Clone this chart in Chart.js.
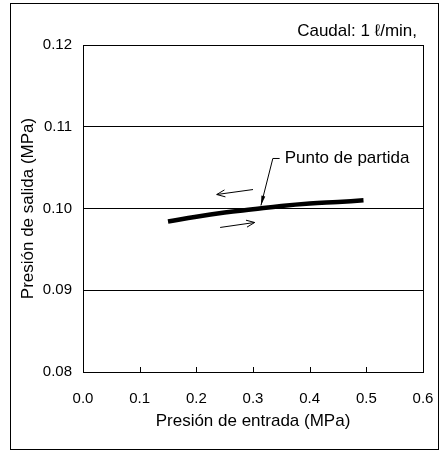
<!DOCTYPE html>
<html>
<head>
<meta charset="utf-8">
<script src="https://cdn.jsdelivr.net/npm/chart.js@4.4.1/dist/chart.umd.min.js"></script>
<style>
  html, body { margin: 0; padding: 0; background: #fff; }
  #wrap { width: 439px; height: 451px; }
</style>
</head>
<body>
<div id="wrap"><canvas id="chartCanvas" width="439" height="451"></canvas></div>
<script>
// Datos de la curva
const presionEntrada = [0.15, 0.2, 0.25, 0.3, 0.35, 0.4, 0.45, 0.495];
const presionSalida = [0.0984, 0.0990, 0.0995, 0.0999, 0.1003, 0.1006, 0.1008, 0.1010];

// Etiquetas de los ejes
const xTicks = ['0.0', '0.1', '0.2', '0.3', '0.4', '0.5', '0.6'];
const yTicks = ['0.08', '0.09', '0.10', '0.11', '0.12'];

// Anotaciones (en unidades de datos)
const flechaIzq = [[0.300, 0.10232], [0.236, 0.10171]];
const flechaDer = [[0.242, 0.09768], [0.303, 0.09829]];
const lineaGuia = [[0.347, 0.10612], [0.335, 0.10612], [0.314, 0.10037]];
const textoGuia = 'Punto de partida';
const textoCaudal = 'Caudal: 1 \u2113/min,';

const FONT = 'Liberation Sans, Arial, sans-serif';

function flecha(ctx, x1, y1, x2, y2, head) {
    ctx.beginPath();
    ctx.moveTo(x1, y1);
    ctx.lineTo(x2, y2);
    ctx.stroke();
    const ang = Math.atan2(y2 - y1, x2 - x1);
    ctx.beginPath();
    ctx.moveTo(x2 - head * Math.cos(ang - 0.4), y2 - head * Math.sin(ang - 0.4));
    ctx.lineTo(x2, y2);
    ctx.lineTo(x2 - head * Math.cos(ang + 0.4), y2 - head * Math.sin(ang + 0.4));
    ctx.stroke();
}

// Marco, ticks interiores y anotaciones
const extras = {
    id: 'extras',
    afterDraw(chart) {
        const ctx = chart.ctx;
        const xs = chart.scales.x, ys = chart.scales.y;
        const a = chart.chartArea;
        ctx.save();
        ctx.strokeStyle = '#000';
        ctx.lineWidth = 1;
        // marco exterior
        ctx.strokeRect(10.5, 3.5, chart.width - 11, chart.height - 5);
        // marco del área
        ctx.strokeRect(Math.round(a.left) + 0.5, Math.round(a.top) + 0.5,
            Math.round(a.right - a.left), Math.round(a.bottom - a.top));
        // ticks del eje x hacia dentro
        xs.ticks.forEach(t => {
            const px = Math.round(xs.getPixelForValue(t.value)) + 0.5;
            ctx.beginPath();
            ctx.moveTo(px, a.bottom);
            ctx.lineTo(px, a.bottom - 5);
            ctx.stroke();
        });
        // flechas
        const p = pt => [xs.getPixelForValue(pt[0]), ys.getPixelForValue(pt[1])];
        let [x1, y1] = p(flechaIzq[0]), [x2, y2] = p(flechaIzq[1]);
        flecha(ctx, x1, y1, x2, y2, 9);
        [x1, y1] = p(flechaDer[0]); [x2, y2] = p(flechaDer[1]);
        flecha(ctx, x1, y1, x2, y2, 9);
        // línea guía con punta rellena
        const g = lineaGuia.map(p);
        ctx.beginPath();
        ctx.moveTo(g[0][0], g[0][1]);
        ctx.lineTo(g[1][0], g[1][1]);
        ctx.lineTo(g[2][0], g[2][1]);
        ctx.stroke();
        const ang = Math.atan2(g[2][1] - g[1][1], g[2][0] - g[1][0]);
        ctx.fillStyle = '#000';
        ctx.beginPath();
        ctx.moveTo(g[2][0], g[2][1]);
        ctx.lineTo(g[2][0] - 10 * Math.cos(ang - 0.2), g[2][1] - 10 * Math.sin(ang - 0.2));
        ctx.lineTo(g[2][0] - 10 * Math.cos(ang + 0.2), g[2][1] - 10 * Math.sin(ang + 0.2));
        ctx.closePath();
        ctx.fill();
        // textos
        ctx.font = '17px ' + FONT;
        ctx.textBaseline = 'middle';
        ctx.textAlign = 'left';
        ctx.fillText(textoGuia, g[0][0] + 5, g[0][1]);
        ctx.textAlign = 'right';
        ctx.fillText(textoCaudal, 417, 31);
        ctx.restore();
    }
};

const ctx = document.getElementById('chartCanvas').getContext('2d');
new Chart(ctx, {
    type: 'line',
    data: {
        datasets: [{
            data: presionEntrada.map((x, i) => ({ x: x, y: presionSalida[i] })),
            borderColor: '#000',
            borderWidth: 4.5,
            pointRadius: 0,
            tension: 0.4,
            fill: false
        }]
    },
    options: {
        responsive: false,
        animation: false,
        layout: { padding: { left: 0, top: 45, right: 16, bottom: 0 } },
        plugins: { legend: { display: false }, tooltip: { enabled: false } },
        scales: {
            x: {
                type: 'linear',
                min: 0, max: 0.6,
                afterFit(s) { s.height = 79; s.paddingLeft = 0; s.paddingRight = 0; },
                afterBuildTicks(s) { s.ticks = xTicks.map(v => ({ value: parseFloat(v) })); },
                ticks: {
                    callback: (v, i) => xTicks[i],
                    color: '#000',
                    font: { size: 15, family: FONT },
                    padding: 18,
                    maxRotation: 0
                },
                grid: { display: false, drawTicks: false },
                border: { display: false },
                title: {
                    display: true,
                    text: 'Presión de entrada (MPa)',
                    color: '#000',
                    font: { size: 17, family: FONT },
                    padding: { top: 0, bottom: 19 }
                }
            },
            y: {
                type: 'linear',
                min: 0.08, max: 0.12,
                afterFit(s) { s.width = 83; s.paddingTop = 0; s.paddingBottom = 0; },
                afterBuildTicks(s) { s.ticks = yTicks.map(v => ({ value: parseFloat(v) })); },
                ticks: {
                    callback: (v, i) => yTicks[i],
                    color: '#000',
                    font: { size: 15, family: FONT },
                    padding: 11
                },
                grid: { color: '#000', lineWidth: 1, drawTicks: false },
                border: { display: false },
                title: {
                    display: true,
                    text: 'Presión de salida (MPa)',
                    color: '#000',
                    font: { size: 17, family: FONT },
                    padding: { top: 18, bottom: 0 }
                }
            }
        }
    },
    plugins: [extras]
});
</script>
</body>
</html>
